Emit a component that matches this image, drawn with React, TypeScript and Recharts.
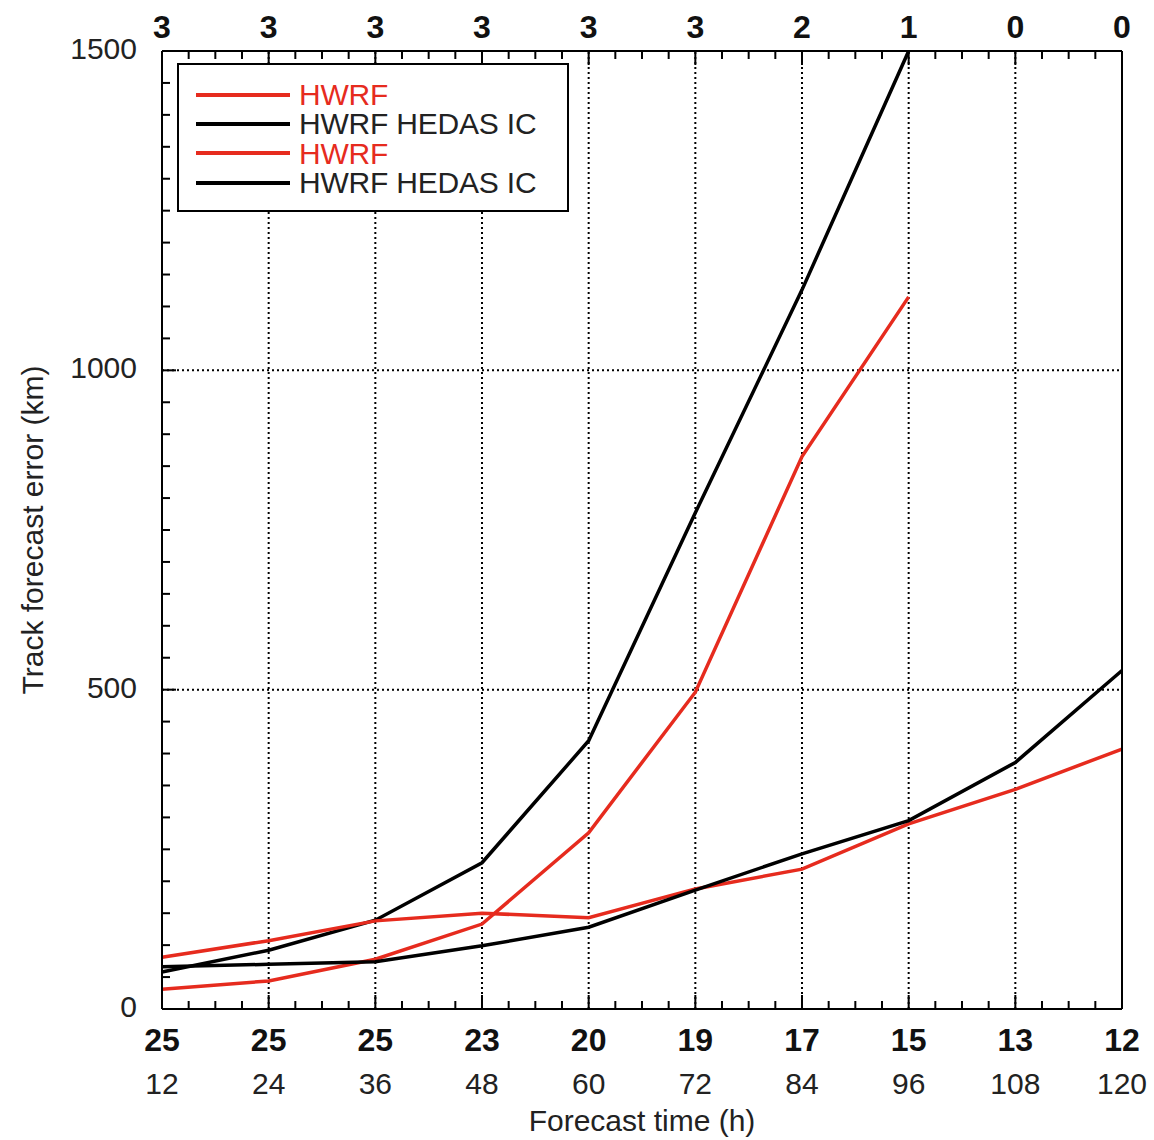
import React from "react";
import {
  LineChart,
  Line,
  XAxis,
  YAxis,
  ReferenceLine,
  Legend,
} from "recharts";

// forecast lead times (h)
const hours = [12, 24, 36, 48, 60, 72, 84, 96, 108, 120];
// number of cases per lead time
const topCounts = [3, 3, 3, 3, 3, 3, 2, 1, 0, 0];
const bottomCounts = [25, 25, 25, 23, 20, 19, 17, 15, 13, 12];

// track errors (km)
const hwrfSmall = [31, 44, 78, 133, 276, 496, 865, 1115, null, null];
const hedasSmall = [58, 92, 139, 229, 420, 777, 1126, 1500, null, null];
const hwrfLarge = [81, 107, 138, 150, 143, 188, 219, 290, 344, 407];
const hedasLarge = [66, 70, 74, 99, 128, 186, 243, 295, 386, 530];

const seriesOrder = ["hwrfSmall", "hedasSmall", "hwrfLarge", "hedasLarge"];

const yMajor = [0, 500, 1000, 1500];
const yGrid = [500, 1000];
const xTicks = Array.from({ length: 37 }, (_, i) => 12 + i * 3);
const yTicks = Array.from({ length: 31 }, (_, i) => i * 50);

const RED = "#e62b1e";
const FONT = "'Liberation Sans', Arial, Helvetica, sans-serif";

const data = hours.map((h, i) => ({
  hour: h,
  hwrfSmall: hwrfSmall[i],
  hedasSmall: hedasSmall[i],
  hwrfLarge: hwrfLarge[i],
  hedasLarge: hedasLarge[i],
}));

const BottomTick = (props: any) => {
  const { x, y, payload } = props;
  const idx = hours.indexOf(payload.value);
  const major = idx >= 0;
  return (
    <g>
      <line x1={x} x2={x} y1={y} y2={y - (major ? 14 : 8)} stroke="#000" strokeWidth={2} />
      {major && (
        <>
          <text x={x} y={y + 42} textAnchor="middle" fontFamily={FONT} fontSize={32} fontWeight="bold" fill="#111">
            {bottomCounts[idx]}
          </text>
          <text x={x} y={y + 85} textAnchor="middle" fontFamily={FONT} fontSize={30} fill="#222">
            {payload.value}
          </text>
        </>
      )}
    </g>
  );
};

const TopTick = (props: any) => {
  const { x, y, payload } = props;
  const idx = hours.indexOf(payload.value);
  const major = idx >= 0;
  return (
    <g>
      <line x1={x} x2={x} y1={y} y2={y + (major ? 14 : 8)} stroke="#000" strokeWidth={2} />
      {major && (
        <text x={x} y={y - 13} textAnchor="middle" fontFamily={FONT} fontSize={32} fontWeight="bold" fill="#111">
          {topCounts[idx]}
        </text>
      )}
    </g>
  );
};

const LeftTick = (props: any) => {
  const { x, y, payload } = props;
  const major = yMajor.includes(payload.value);
  return (
    <g>
      <line x1={x} x2={x + (major ? 14 : 8)} y1={y} y2={y} stroke="#000" strokeWidth={2} />
      {major && (
        <text x={x - 25} y={y + 8} textAnchor="end" fontFamily={FONT} fontSize={30} fill="#222">
          {payload.value}
        </text>
      )}
    </g>
  );
};

const RightTick = (props: any) => {
  const { x, y, payload } = props;
  const major = yMajor.includes(payload.value);
  return <line x1={x} x2={x - (major ? 14 : 8)} y1={y} y2={y} stroke="#000" strokeWidth={2} />;
};

const LegendBox = (props: any) => {
  const items = [...(props.payload || [])].sort(
    (a: any, b: any) => seriesOrder.indexOf(a.dataKey) - seriesOrder.indexOf(b.dataKey)
  );
  return (
    <div
      style={{
        width: 392,
        height: 149,
        boxSizing: "border-box",
        border: "2px solid #000",
        background: "#fff",
        paddingTop: 15,
        paddingLeft: 17,
        fontFamily: FONT,
      }}
    >
      {items.map((it: any, i: number) => (
        <div key={i} style={{ display: "flex", alignItems: "center", height: 29.3 }}>
          <div style={{ width: 94, height: 4, background: it.color }} />
          <span
            style={{
              marginLeft: 9,
              fontSize: 30,
              lineHeight: "29px",
              color: it.color === RED ? RED : "#222",
              letterSpacing: -0.2,
            }}
          >
            {it.value}
          </span>
        </div>
      ))}
    </div>
  );
};

export default function App() {
  return (
    <div style={{ position: "absolute", left: 0, top: 0, background: "#fff" }}>
      <LineChart width={1154} height={1140} data={data} margin={{ top: 0, right: 0, bottom: 0, left: 0 }}>
        <XAxis
          dataKey="hour"
          type="number"
          domain={[12, 120]}
          ticks={xTicks}
          interval={0}
          height={131}
          tickSize={0}
          tickMargin={0}
          tickLine={false}
          axisLine={{ stroke: "#000", strokeWidth: 2 }}
          tick={<BottomTick />}
          label={{
            content: (p: any) => {
              const vb = p.viewBox;
              return (
                <text x={vb.x + vb.width / 2} y={vb.y + 122} textAnchor="middle" fontFamily={FONT} fontSize={30} fill="#222">
                  Forecast time (h)
                </text>
              );
            },
          }}
        />
        <XAxis
          xAxisId="top"
          orientation="top"
          dataKey="hour"
          type="number"
          domain={[12, 120]}
          ticks={xTicks}
          interval={0}
          height={51}
          tickSize={0}
          tickMargin={0}
          tickLine={false}
          axisLine={{ stroke: "#000", strokeWidth: 2 }}
          tick={<TopTick />}
        />
        <YAxis
          type="number"
          domain={[0, 1500]}
          ticks={yTicks}
          interval={0}
          width={162}
          tickSize={0}
          tickMargin={0}
          tickLine={false}
          axisLine={{ stroke: "#000", strokeWidth: 2 }}
          tick={<LeftTick />}
          label={{
            content: (p: any) => {
              const vb = p.viewBox;
              const cx = vb.x + 32;
              const cy = vb.y + vb.height / 2;
              return (
                <text
                  x={cx}
                  y={cy}
                  transform={`rotate(-90 ${cx} ${cy})`}
                  textAnchor="middle"
                  dominantBaseline="central"
                  fontFamily={FONT}
                  fontSize={30}
                  fill="#222"
                >
                  Track forecast error (km)
                </text>
              );
            },
          }}
        />
        <YAxis
          yAxisId="right"
          orientation="right"
          type="number"
          domain={[0, 1500]}
          ticks={yTicks}
          interval={0}
          width={32}
          tickSize={0}
          tickMargin={0}
          tickLine={false}
          axisLine={{ stroke: "#000", strokeWidth: 2 }}
          tick={<RightTick />}
        />
        {hours.slice(1, -1).map((h) => (
          <ReferenceLine key={`vx${h}`} x={h} stroke="#000" strokeWidth={2} strokeDasharray="2 3" />
        ))}
        {yGrid.map((v) => (
          <ReferenceLine key={`hy${v}`} y={v} stroke="#000" strokeWidth={2} strokeDasharray="2 3" />
        ))}
        <Legend
          layout="vertical"
          align="center"
          verticalAlign="middle"
          wrapperStyle={{ position: "absolute", left: 177, top: 63, width: 392 }}
          content={<LegendBox />}
        />
        <Line dataKey="hwrfSmall" name="HWRF" stroke={RED} strokeWidth={3.5} dot={false} isAnimationActive={false} />
        <Line dataKey="hedasSmall" name="HWRF HEDAS IC" stroke="#000" strokeWidth={3.5} dot={false} isAnimationActive={false} />
        <Line dataKey="hwrfLarge" name="HWRF" stroke={RED} strokeWidth={3.5} dot={false} isAnimationActive={false} />
        <Line dataKey="hedasLarge" name="HWRF HEDAS IC" stroke="#000" strokeWidth={3.5} dot={false} isAnimationActive={false} />
      </LineChart>
    </div>
  );
}
